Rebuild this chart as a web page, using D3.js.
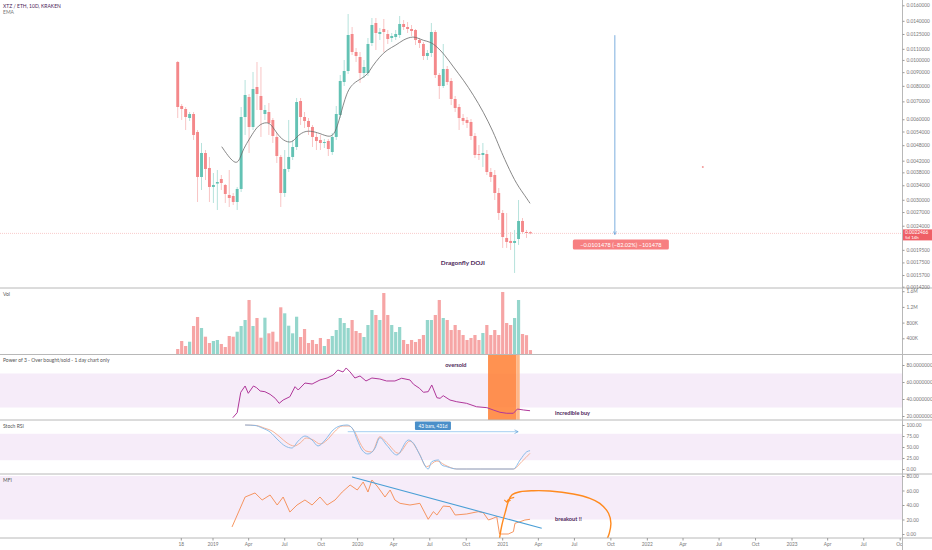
<!DOCTYPE html>
<html><head><meta charset="utf-8">
<script src="https://cdn.jsdelivr.net/npm/d3@7"></script>
<style>body{margin:0;background:#fff;}svg{display:block;font-family:Lato,"Open Sans",sans-serif;}</style>
</head><body><svg id="c" width="932" height="550"></svg>
<script>
// ---------- DATA ----------
const openP=[0.00982,0.006726,0.006554,0.006065,0.006278,0.005378,0.003651,0.004488,0.003945,0.00335,0.00345,0.003588,0.003408,0.003127,0.0031,0.002944,0.003293,0.006118,0.007268,0.005614,0.00792,0.007331,0.006278,0.006387,0.005963,0.005152,0.004337,0.003181,0.003911,0.004337,0.004726,0.007021,0.006118,0.005912,0.005614,0.005152,0.00502,0.004892,0.004977,0.004526,0.005152,0.006224,0.008269,0.00909,0.012498,0.010705,0.010254,0.008935,0.008935,0.011567,0.01374,0.012498,0.013049,0.012498,0.012076,0.01218,0.012392,0.013622,0.013275,0.013049,0.012936,0.01187,0.011468,0.010343,0.010613,0.012715,0.008782,0.007989,0.009247,0.008341,0.007144,0.006668,0.006065,0.005963,0.005861,0.005196,0.004449,0.004412,0.004449,0.003811,0.003714,0.003181,0.002678,0.00216,0.002105,0.002069,0.002141,0.0025,0.002274,0.00227];
const highP=[0.009906,0.006842,0.006668,0.006387,0.006387,0.005471,0.004892,0.004605,0.004337,0.003778,0.003877,0.003714,0.003437,0.003877,0.003181,0.00335,0.006668,0.008413,0.007457,0.009013,0.009821,0.009408,0.006784,0.006901,0.006065,0.005332,0.004412,0.004605,0.005963,0.00502,0.007206,0.007206,0.006387,0.006065,0.005712,0.005332,0.005241,0.005064,0.005064,0.005332,0.006726,0.008782,0.009992,0.014846,0.013275,0.01108,0.010705,0.009992,0.012076,0.014344,0.014344,0.013162,0.014221,0.012936,0.012606,0.012936,0.014593,0.014099,0.013858,0.013506,0.013049,0.012076,0.011667,0.010891,0.01374,0.012936,0.008935,0.011468,0.009489,0.008558,0.007331,0.006842,0.006278,0.006118,0.006013,0.005332,0.004808,0.004892,0.004605,0.003945,0.003877,0.003321,0.002748,0.002678,0.002274,0.002314,0.002995,0.002565,0.002314,0.00229];
const lowP=[0.006065,0.005963,0.005471,0.005912,0.00502,0.002944,0.003264,0.003557,0.002944,0.002919,0.002748,0.003264,0.002919,0.00282,0.002869,0.002748,0.003208,0.005241,0.004488,0.005471,0.006498,0.005152,0.005963,0.005241,0.004892,0.004118,0.00282,0.003074,0.003811,0.004226,0.004605,0.005712,0.005566,0.005241,0.004726,0.004605,0.004605,0.004685,0.004374,0.004412,0.00502,0.006065,0.007989,0.008859,0.010432,0.009821,0.008199,0.008558,0.008707,0.011273,0.010891,0.01187,0.010705,0.011468,0.011667,0.01187,0.012076,0.012936,0.012606,0.012286,0.01137,0.01108,0.009992,0.009992,0.010254,0.008558,0.007144,0.007853,0.008058,0.006784,0.006387,0.005471,0.005712,0.005566,0.00502,0.0043,0.004226,0.003979,0.003714,0.003496,0.002995,0.002522,0.001982,0.001982,0.001948,0.001598,0.002034,0.002236,0.00216,0.00223];
const closeP=[0.006668,0.006554,0.006118,0.006278,0.005241,0.003651,0.004488,0.003911,0.00335,0.003408,0.003496,0.003466,0.003154,0.003047,0.002944,0.003293,0.006118,0.007394,0.005614,0.007785,0.007457,0.006498,0.006498,0.005811,0.005196,0.004374,0.003181,0.003911,0.004337,0.004726,0.006961,0.006118,0.005912,0.005614,0.005152,0.004977,0.004892,0.004934,0.004645,0.005152,0.006278,0.008341,0.00909,0.012392,0.010705,0.010343,0.008935,0.009408,0.011468,0.013506,0.012606,0.012715,0.012715,0.011973,0.012286,0.012498,0.013622,0.013275,0.013049,0.012825,0.01187,0.011567,0.010343,0.010613,0.012715,0.008782,0.007989,0.009247,0.008269,0.007144,0.006611,0.006065,0.005912,0.005811,0.005196,0.004412,0.004412,0.004488,0.003811,0.003651,0.003181,0.002678,0.002178,0.002087,0.002069,0.002105,0.0025,0.002274,0.00227,0.0022466];
const volumeK=[127,331,204,313,713,943,662,441,280,331,357,255,178,459,441,568,713,866,1376,713,917,415,925,527,568,313,1190,1037,721,527,950,433,637,280,357,255,408,204,382,459,611,917,790,662,866,586,535,433,739,1121,994,866,1554,994,739,561,688,357,255,357,306,382,484,866,866,994,1376,917,866,611,739,611,484,357,408,484,357,535,739,484,611,484,1580,790,739,917,1376,510,480,100];
// EMA samples: bar index, price
const emaIdx=[11.1,14.9,16.1,17.4,18.7,20.3,22.5,23.7,25.0,26.6,28.8,30.0,31.7,33.4,35.9,38.4,39.7,40.9,42.6,44.3,46.4,48.0,49.0,51.0,52.7,55.2,56.8,58.9,60.3,62.0,63.7,65.4,67.4,69.5,72.1,74.6,77.1,79.6,81.3,82.2,85.1,87.2,88.9];
const emaVal=[0.004738,0.003933,0.004488,0.004877,0.005241,0.005712,0.005876,0.005712,0.005316,0.00499,0.004877,0.005164,0.005391,0.005438,0.005316,0.005119,0.005316,0.006065,0.007585,0.008196,0.008519,0.008854,0.009431,0.01028,0.010891,0.01137,0.01187,0.012211,0.012144,0.011799,0.011697,0.011204,0.010432,0.009431,0.008413,0.007394,0.006403,0.005391,0.004671,0.004348,0.003505,0.003171,0.00291];
// Power of 3
const powIdx=[13.9,15.0,15.9,17.0,17.8,19.1,19.9,20.8,22.0,23.3,24.6,25.6,26.6,28.3,29.6,30.4,32.1,33.9,35.9,37.7,39.2,40.4,41.7,42.5,43.5,44.7,46.0,47.5,49.0,51.0,52.7,54.8,56.5,58.6,59.5,61.0,62.0,63.2,64.1,65.4,66.2,67.0,68.7,70.4,72.9,75.4,78.0,79.6,81.3,83.0,84.7,85.7,87.2,88.9];
const powVal=[18,23.9,47.9,55.3,46.7,55.3,53.3,49.4,48.6,45.5,40.8,34.9,38.8,42.7,54.5,50.6,58.8,57.6,62.4,64.7,68.2,74.1,71.8,76.5,71.8,64.7,67.1,61.2,64.7,63.5,61.2,61.2,64.4,62.4,57.3,52.6,47.9,48.6,56.5,41.5,40.8,43.9,38.8,36.8,34.9,30.9,29.8,27.1,24.4,23.2,23.2,28.2,27.1,26.2];
// Stoch RSI K (blue) and D (orange)
const kIdx=[17.0,19.5,21.3,23.3,25.3,27.1,28.8,30.4,32.1,33.9,35.4,37.2,39.2,40.9,42.7,44.0,45.3,46.5,48.0,49.8,51.0,52.7,55.3,58.2,59.5,61.1,63.2,64.1,65.8,66.6,67.9,70.4,72.9,76.3,81.3,84.7,86.4,88.1,88.9];
const kVal=[100,98.9,93.2,84.1,65.9,52.3,47.7,63.6,75,65.9,52.3,65.9,88.6,97.7,100,93.2,65.9,43.2,34.1,47.7,71.1,54.5,31.8,65.9,58.4,31.8,0,16.6,20.5,9.1,5.2,0,0,0,0,0,20.5,39.3,41.6];
const dIdx=[17.0,19.8,21.8,23.8,25.8,27.6,29.4,30.9,32.4,34.2,35.9,37.7,39.5,41.5,43.2,44.7,46.0,47.5,49.0,51.0,52.7,55.7,58.6,60.7,62.8,65.4,67.4,70.4,76.3,84.7,86.8,88.9];
const dVal=[100,98.9,93.2,86.4,72.7,59.1,52.3,59.1,70.5,65.9,56.8,65.9,84.1,97.7,97.7,84.1,59.1,40.9,38.6,73.4,60.7,35.7,63.6,39.3,5.2,18.2,9.1,0,0,0,16.6,35.7];
// MFI
const mfiIdx=[13.7,17.0,19.5,21.3,23.3,25.1,26.6,28.3,30.1,32.1,33.9,35.9,37.7,39.7,41.5,43.5,45.3,46.8,48.0,49.0,50.5,52.3,53.6,54.8,56.1,58.6,61.1,63.2,64.5,65.4,67.0,68.7,70.0,72.9,75.8,77.1,78.4,79.6,80.5,81.2,81.8,83.4,84.7,85.1,86.4,87.6,88.9];
const mfiVal=[9.7,51,56.6,46.9,53.8,40,51,30.3,40,46.9,40,51,40,46.9,57.9,67.6,60.7,71.7,57.9,74.5,64.8,51,60.7,46.9,42.3,40,42.3,20.3,30.8,26.2,38.6,37.7,26.2,27.6,30.8,29.4,19.3,21.7,23.9,0,0,0,3.2,14.8,17,19.3,20.3];
// hand drawn orange loop in the MFI pane (bar index, MFI units)
const loopIdx=[81.2,81.8,82.8,83.4,84.3,86.4,89.7,93.9,99.8,104.0,106.5,108.7,109.3,108.9,108.3];
const loopVal=[-5.9,12.4,33.1,44.6,53.8,58.3,59.7,59.3,55.2,49.2,42.3,28.6,14.8,1.0,-7.3];
// axis ticks
const priceTicks=[0.016,0.014,0.0125,0.011,0.010,0.009,0.008,0.007,0.006,0.0054,0.0048,0.0042,0.0038,0.0034,0.003,0.0027,0.0024,0.00195,0.00175,0.00157,0.00142];
const volTicks=[400000,800000,1200000,1600000];
const volTickLabels=["400K","800K","1.2M","1.6M"];
const powTicks=[20,40,60,80];
const stochTicks=[0,25,50,75,100];
const mfiTicks=[0,20,40,60,80];
const xTickDates=["2018-10-13","2019-01-01","2019-04-01","2019-07-01","2019-10-01","2020-01-01","2020-04-01","2020-07-01","2020-10-01","2021-01-01","2021-04-01","2021-07-01","2021-10-01","2022-01-01","2022-04-01","2022-07-01","2022-10-01","2023-01-01","2023-04-01","2023-07-01","2023-10-01"];
const xTickLabels=["18","2019","Apr","Jul","Oct","2020","Apr","Jul","Oct","2021","Apr","Jul","Oct","2022","Apr","Jul","Oct","2023","Apr","Jul","Oct"];
const lastPrice=0.0022466;
const measureTop=0.012372, measureBottom=0.0022242;

// ---------- SCALES ----------
const svg=d3.select('#c');
const DAY=86400000;
const start=Date.UTC(2018,9,4);
const dateOf=i=>new Date(start+i*10*DAY);
const x=d3.scaleUtc().domain([new Date(Date.UTC(2019,0,1)),new Date(Date.UTC(2023,0,1))]).range([213,792]);
const xi=i=>x(dateOf(i));
const AX=902;
const yM=d3.scaleLog().domain([0.00142,0.016]).range([286.7,5.3]);
const yV=d3.scaleLinear().domain([0,1600000]).range([354,291.2]);
const yP=d3.scaleLinear().domain([20,80]).range([416,365]);
const yS=d3.scaleLinear().domain([0,100]).range([469,425]);
const yF=d3.scaleLinear().domain([0,80]).range([534,476]);

const defs=svg.append('defs');
defs.append('clipPath').attr('id','cl').append('rect').attr('x',0).attr('y',0).attr('width',AX).attr('height',538);
defs.append('marker').attr('id','ab').attr('viewBox','0 0 10 10').attr('refX',9).attr('refY',5)
  .attr('markerWidth',5).attr('markerHeight',5).attr('orient','auto-start-reverse')
  .append('path').attr('d','M1,1L9,5L1,9').attr('fill','none').attr('stroke','#5b9bd5').attr('stroke-width',1.5);

const plot=svg.append('g').attr('clip-path','url(#cl)');

// bands
const band='#f6ecf9';
plot.append('rect').attr('x',0).attr('width',AX).attr('y',yP(70)).attr('height',yP(30)-yP(70)).attr('fill',band);
plot.append('rect').attr('x',0).attr('width',AX).attr('y',yS(80)).attr('height',yS(20)-yS(80)).attr('fill',band);
plot.append('rect').attr('x',0).attr('width',AX).attr('y',yF(80)).attr('height',yF(20)-yF(80)).attr('fill',band);

// last price line
plot.append('line').attr('x1',0).attr('x2',AX).attr('y1',yM(lastPrice)).attr('y2',yM(lastPrice))
  .attr('stroke','#f6b6b6').attr('stroke-width',0.7).attr('stroke-dasharray','1,1');

// candles
const idx=d3.range(openP.length);
const up=i=>closeP[i]>=openP[i];
plot.append('g').selectAll('line').data(idx).join('line')
  .attr('x1',i=>xi(i)).attr('x2',i=>xi(i)).attr('y1',i=>yM(highP[i])).attr('y2',i=>yM(lowP[i]))
  .attr('stroke',i=>up(i)?'#b6e2dc':'#f8c5c5').attr('stroke-width',1);
plot.append('g').selectAll('rect').data(idx).join('rect')
  .attr('x',i=>xi(i)-1.45).attr('width',2.9)
  .attr('y',i=>yM(Math.max(openP[i],closeP[i])))
  .attr('height',i=>Math.max(1,yM(Math.min(openP[i],closeP[i]))-yM(Math.max(openP[i],closeP[i]))))
  .attr('fill',i=>up(i)?'#63c2b4':'#f4888a');

// EMA
plot.append('path').datum(d3.range(emaIdx.length))
  .attr('d',d3.line().x(j=>xi(emaIdx[j])).y(j=>yM(emaVal[j])).curve(d3.curveBasis))
  .attr('fill','none').attr('stroke','#6a6a6a').attr('stroke-width',0.8);

// volume
plot.append('g').selectAll('rect').data(idx).join('rect')
  .attr('x',i=>xi(i)-1.6).attr('width',3.2)
  .attr('y',i=>yV(volumeK[i]*1000)).attr('height',i=>yV(0)-yV(volumeK[i]*1000))
  .attr('fill',i=>up(i)?'#95d6cc':'#f6a5a5');

// Power of 3 orange highlight
plot.append('rect').attr('x',xi(78.3)).attr('width',xi(85.4)-xi(78.3)).attr('y',355).attr('height',65)
  .attr('fill','#ff7f32').attr('opacity',0.85);
plot.append('rect').attr('x',xi(85.4)).attr('width',xi(86.3)-xi(85.4)).attr('y',355).attr('height',65)
  .attr('fill','#ffb07a').attr('opacity',0.9);
plot.append('path').datum(d3.range(powIdx.length))
  .attr('d',d3.line().x(j=>xi(powIdx[j])).y(j=>yP(powVal[j])))
  .attr('fill','none').attr('stroke','#b0379a').attr('stroke-width',1);

// Stoch RSI
plot.append('path').datum(d3.range(dIdx.length))
  .attr('d',d3.line().x(j=>xi(dIdx[j])).y(j=>yS(dVal[j])).curve(d3.curveMonotoneX))
  .attr('fill','none').attr('stroke','#f5a98a').attr('stroke-width',0.9);
plot.append('path').datum(d3.range(kIdx.length))
  .attr('d',d3.line().x(j=>xi(kIdx[j])).y(j=>yS(kVal[j])).curve(d3.curveMonotoneX))
  .attr('fill','none').attr('stroke','#7fb5e6').attr('stroke-width',0.9);

// MFI
plot.append('path').datum(d3.range(mfiIdx.length))
  .attr('d',d3.line().x(j=>xi(mfiIdx[j])).y(j=>yF(mfiVal[j])))
  .attr('fill','none').attr('stroke','#f58a4f').attr('stroke-width',0.9);
plot.append('line').attr('x1',xi(44)).attr('y1',yF(78.6)).attr('x2',xi(91.85)).attr('y2',yF(7.9))
  .attr('stroke','#4a9fd6').attr('stroke-width',1.1);
plot.append('path').datum(d3.range(loopIdx.length))
  .attr('d',d3.line().x(j=>xi(loopIdx[j])).y(j=>yF(loopVal[j])).curve(d3.curveCatmullRom))
  .attr('fill','none').attr('stroke','#ff8a1f').attr('stroke-width',1.4);
// little hook arrow
plot.append('path').attr('d',`M${xi(84.9)},${yF(50.5)} Q${xi(83.2)},${yF(49)} ${xi(83.0)},${yF(44)}`)
  .attr('fill','none').attr('stroke','#ff8a1f').attr('stroke-width',1.2);
plot.append('path').attr('d',`M${xi(82.4)},${yF(47)} L${xi(83.0)},${yF(44)} L${xi(84.0)},${yF(46.5)}`)
  .attr('fill','none').attr('stroke','#ff8a1f').attr('stroke-width',1.1);

// measure arrow in main pane
const mX=xi(110.3);
plot.append('line').attr('x1',mX).attr('x2',mX).attr('y1',yM(measureTop)).attr('y2',yM(measureBottom))
  .attr('stroke','#5b9bd5').attr('stroke-width',0.8).attr('marker-end','url(#ab)');
const lblW=96;
plot.append('rect').attr('x',mX+6-lblW/2).attr('y',yM(measureBottom)+5).attr('width',lblW).attr('height',10).attr('rx',1.5).attr('fill','#f77f81');
plot.append('text').attr('x',mX+6).attr('y',yM(measureBottom)+12).attr('text-anchor','middle')
  .attr('fill','#fff').style('font-size','5.6px').text('−0.0101478 (−82.02%) −101478');
plot.append('circle').attr('cx',xi(132.5)).attr('cy',yM(0.003979)).attr('r',1).attr('fill','#f39a9a');

// stoch measure (43 bars)
const sy=yS(84.8);
plot.append('line').attr('x1',xi(42.9)).attr('x2',xi(85.9)).attr('y1',sy).attr('y2',sy)
  .attr('stroke','#9ccaf0').attr('stroke-width',0.9).attr('marker-end','url(#ab)');
const sc=(xi(42.9)+xi(85.9))/2;
plot.append('rect').attr('x',sc-18).attr('y',421.5).attr('width',36).attr('height',8.5).attr('rx',1).attr('fill','#4a8fc9');
plot.append('text').attr('x',sc).attr('y',427.6).attr('text-anchor','middle').attr('fill','#fff').style('font-size','4.8px').text('43 bars, 431d');

// text annotations
const ann=(i,y,t,fs,bold)=>plot.append('text').attr('x',xi(i)).attr('y',y).attr('fill','#4b2559')
  .style('font-size',fs+'px').style('font-weight',bold?'bold':'normal').text(t);
ann(66.4,yM(0.001741)+2,'Dragonfly DOJI',6.4,true);
ann(67.5,yP(77.6),'oversold',5.6,true);
ann(95.2,yP(21.2),'incredible buy',5.6,true);
ann(95.2,yF(17.9),'breakout !!',5.6,true);

// pane separators and axis line
[288,354.5,420,474,538].forEach(y=>svg.append('line').attr('x1',0).attr('x2',932).attr('y1',y).attr('y2',y).attr('stroke','#b8b8b8').attr('stroke-width',1));
svg.append('line').attr('x1',AX+0.5).attr('x2',AX+0.5).attr('y1',0).attr('y2',550).attr('stroke','#b8b8b8').attr('stroke-width',1);

// right axes
function rAxis(scale,ticks,fmt){
  const g=svg.append('g').attr('transform',`translate(${AX+0.5},0)`)
    .call(d3.axisRight(scale).tickValues(ticks).tickFormat(fmt).tickSize(2).tickPadding(2));
  g.select('.domain').remove();
  g.selectAll('line').attr('stroke','#999');
  g.selectAll('text').attr('fill','#777').style('font-size','4.8px').style('font-family','Lato,sans-serif');
}
rAxis(yM,priceTicks,d=>d.toFixed(7));
rAxis(yV,volTicks,(d,i)=>volTickLabels[i]);
rAxis(yP,powTicks,d=>d.toFixed(7));
rAxis(yS,stochTicks,d=>d.toFixed(2));
rAxis(yF,mfiTicks,d=>d.toFixed(2));

// current price label
const lp=yM(lastPrice);
svg.append('rect').attr('x',AX+1).attr('y',lp-4).attr('width',30).attr('height',11).attr('fill','#ef5f66');
svg.append('text').attr('x',AX+3).attr('y',lp+1).attr('fill','#fff').style('font-size','4.8px').text('0.0022466');
svg.append('text').attr('x',AX+3).attr('y',lp+6).attr('fill','#fff').style('font-size','4.4px').text('5d 14h');

// x axis
const xa=svg.append('g').attr('clip-path','url(#cl2)');
defs.append('clipPath').attr('id','cl2').append('rect').attr('x',0).attr('y',530).attr('width',AX).attr('height',20);
xTickDates.forEach((d,k)=>{
  const px=x(new Date(d+'T00:00:00Z'));
  xa.append('line').attr('x1',px).attr('x2',px).attr('y1',538).attr('y2',540.5).attr('stroke','#999');
  xa.append('text').attr('x',px).attr('y',546).attr('text-anchor','middle').attr('fill','#777').style('font-size','4.8px').text(xTickLabels[k]);
});

// pane titles
const title=(y,t,c)=>svg.append('text').attr('x',3).attr('y',y).attr('fill',c||'#555').style('font-size','5px').text(t);
title(7.5,'XTZ / ETH, 10D, KRAKEN','#4b2559');
title(14,'EMA','#777');
title(296,'Vol');
title(362,'Power of 3 - Over bought/sold - 1 day chart only');
title(428,'Stoch RSI');
title(482,'MFI');
</script></body></html>
